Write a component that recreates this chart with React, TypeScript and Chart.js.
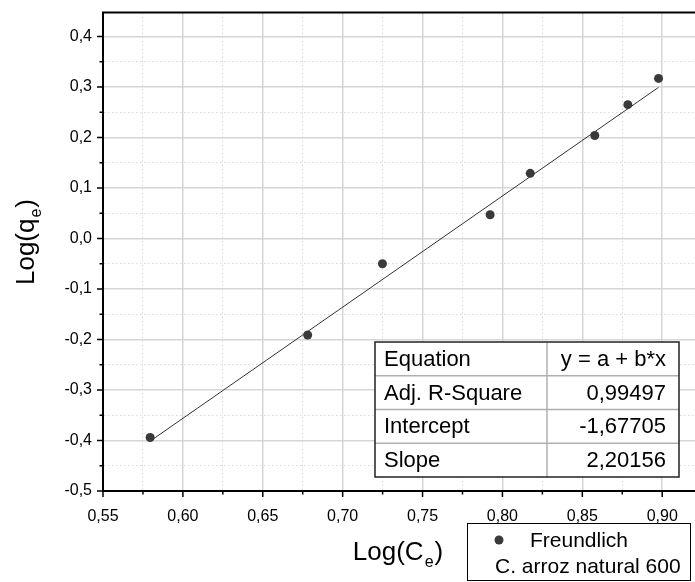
import React, { useEffect, useRef } from "react";
import { Chart, registerables } from "chart.js";

Chart.register(...registerables);

// ---- data ----
const logCe = [0.5795, 0.6781, 0.7249, 0.7923, 0.8174, 0.8578, 0.8785, 0.8977];
const logQe = [-0.394, -0.191, -0.05, 0.047, 0.129, 0.204, 0.265, 0.317];
const INTERCEPT = -1.67705;
const SLOPE = 2.20156;
const tableLabels = ["Equation", "Adj. R-Square", "Intercept", "Slope"];
const tableValues = ["y = a + b*x", "0,99497", "-1,67705", "2,20156"];
const seriesName = "Freundlich";
const sampleName = "C. arroz natural 600";
const xTitle = ["Log(C", "e", ")"];
const yTitle = ["Log(q", "e", ")"];
const X_MIN = 0.55;
const X_MAX = 0.949;
const Y_MIN = -0.5;
const Y_MAX = 0.4473;
const X_STEP = 0.025;
const Y_STEP = 0.05;

const FONT = "'Liberation Sans', Arial, sans-serif";
const CANVAS_W = 745;
const CANVAS_H = 582;

const isMajor = (v: number, major: number) => {
  const r = v / major;
  return Math.abs(r - Math.round(r)) < 1e-6;
};
const fmt = (v: number, d: number) => {
  const s = (Math.abs(v) < 1e-9 ? 0 : v).toFixed(d);
  return s.replace(".", ",");
};

function drawTitle(ctx: CanvasRenderingContext2D, parts: string[], size: number) {
  ctx.font = `${size}px ${FONT}`;
  const w0 = ctx.measureText(parts[0]).width;
  const subSize = Math.round(size * 0.62);
  ctx.font = `${subSize}px ${FONT}`;
  const w1 = ctx.measureText(parts[1]).width;
  ctx.font = `${size}px ${FONT}`;
  const w2 = ctx.measureText(parts[2]).width;
  const total = w0 + w1 + w2 + 2;
  let x = -total / 2;
  ctx.textAlign = "left";
  ctx.textBaseline = "alphabetic";
  ctx.fillStyle = "#000";
  ctx.fillText(parts[0], x, 0);
  x += w0 + 1;
  ctx.font = `${subSize}px ${FONT}`;
  ctx.fillText(parts[1], x, size * 0.28);
  x += w1 + 1;
  ctx.font = `${size}px ${FONT}`;
  ctx.fillText(parts[2], x, 0);
}

const overlayPlugin = {
  id: "overlay",
  afterDraw(chart: any) {
    const ctx: CanvasRenderingContext2D = chart.ctx;
    const area = chart.chartArea;
    const xs = chart.scales.x;
    const ys = chart.scales.y;
    ctx.save();
    // ticks
    ctx.strokeStyle = "#000";
    ctx.lineWidth = 1.5;
    xs.ticks.forEach((t: any) => {
      const px = xs.getPixelForValue(t.value);
      const len = isMajor(t.value, 0.05) ? 6 : 3.5;
      ctx.beginPath();
      ctx.moveTo(px, area.bottom);
      ctx.lineTo(px, area.bottom + len);
      ctx.stroke();
    });
    ys.ticks.forEach((t: any) => {
      const py = ys.getPixelForValue(t.value);
      const len = isMajor(t.value, 0.1) ? 6 : 3.5;
      ctx.beginPath();
      ctx.moveTo(area.left, py);
      ctx.lineTo(area.left - len, py);
      ctx.stroke();
    });
    // top border
    ctx.lineWidth = 2;
    ctx.beginPath();
    ctx.moveTo(area.left - 1, area.top);
    ctx.lineTo(area.right, area.top);
    ctx.stroke();

    // table
    const tL = 375, tR = 679, tT = 342, tB = 477, tC = 547;
    const rh = (tB - tT) / tableLabels.length;
    ctx.fillStyle = "#fff";
    ctx.fillRect(tL, tT, tR - tL, tB - tT);
    ctx.strokeStyle = "#b0b0b0";
    ctx.lineWidth = 1.5;
    for (let i = 1; i < tableLabels.length; i++) {
      ctx.beginPath();
      ctx.moveTo(tL, tT + rh * i);
      ctx.lineTo(tR, tT + rh * i);
      ctx.stroke();
    }
    ctx.beginPath();
    ctx.moveTo(tC, tT);
    ctx.lineTo(tC, tB);
    ctx.stroke();
    ctx.strokeStyle = "#222";
    ctx.lineWidth = 1.5;
    ctx.strokeRect(tL, tT, tR - tL, tB - tT);
    ctx.fillStyle = "#000";
    ctx.font = `22px ${FONT}`;
    ctx.textBaseline = "middle";
    tableLabels.forEach((lab, i) => {
      const cy = tT + rh * i + rh / 2 + 1;
      ctx.textAlign = "left";
      ctx.fillText(lab, tL + 9, cy);
      ctx.textAlign = "right";
      ctx.fillText(tableValues[i], tR - 13, cy);
    });

    // legend
    const lL = 467, lR = 690, lT = 523, lB = 580;
    ctx.fillStyle = "#fff";
    ctx.fillRect(lL, lT, lR - lL, lB - lT);
    ctx.strokeStyle = "#000";
    ctx.lineWidth = 1;
    ctx.strokeRect(lL + 0.5, lT + 0.5, lR - lL, lB - lT);
    ctx.fillStyle = "#3a3a3a";
    ctx.beginPath();
    ctx.arc(499, 540, 4.5, 0, Math.PI * 2);
    ctx.fill();
    ctx.fillStyle = "#000";
    ctx.font = `21px ${FONT}`;
    ctx.textAlign = "left";
    ctx.textBaseline = "middle";
    ctx.fillText(seriesName, 530, 541);
    ctx.fillText(sampleName, 495, 567);

    // axis titles
    ctx.save();
    ctx.translate(398, 560);
    drawTitle(ctx, xTitle, 26);
    ctx.restore();
    ctx.save();
    ctx.translate(34, 242);
    ctx.rotate(-Math.PI / 2);
    drawTitle(ctx, yTitle, 26);
    ctx.restore();

    ctx.restore();
  },
};

export default function App() {
  const ref = useRef<HTMLCanvasElement>(null);
  useEffect(() => {
    if (!ref.current) return;
    const fitX = [logCe[0], logCe[logCe.length - 1]];
    const fitData = fitX.map((x) => ({ x, y: INTERCEPT + SLOPE * x }));
    const pts = logCe.map((x, i) => ({ x, y: logQe[i] }));
    const gridColor = (major: number) => (c: any) =>
      c.tick && isMajor(c.tick.value, major) ? "#d6d6d6" : "#dadada";
    const gridDash = (major: number) => (c: any) =>
      c.tick && !isMajor(c.tick.value, major) ? [1.5, 2.5] : [];
    const gridWidth = (major: number) => (c: any) =>
      c.tick && isMajor(c.tick.value, major) ? 1.5 : 1;
    const chart = new Chart(ref.current, {
      type: "scatter",
      data: {
        datasets: [
          {
            label: "fit",
            data: fitData,
            showLine: true,
            borderColor: "#333",
            borderWidth: 1,
            pointRadius: 0,
            order: 2,
          },
          {
            label: seriesName,
            data: pts,
            backgroundColor: "#3a3a3a",
            borderWidth: 0,
            pointRadius: 4.5,
            order: 1,
          },
        ],
      },
      options: {
        responsive: false,
        animation: false,
        layout: { padding: { top: 10, right: 0, left: 0, bottom: 0 } },
        plugins: { legend: { display: false }, tooltip: { enabled: false } },
        scales: {
          x: {
            type: "linear",
            min: X_MIN,
            max: X_MAX,
            afterFit: (s: any) => {
              s.height = 91;
            },
            ticks: {
              stepSize: X_STEP,
              includeBounds: false,
              autoSkip: false,
              maxRotation: 0,
              padding: 16,
              color: "#000",
              font: { family: FONT, size: 16 },
              callback: (v: any) => (isMajor(Number(v), 0.05) ? fmt(Number(v), 2) : ""),
            },
            grid: {
              drawTicks: false,
              color: gridColor(0.05),
              lineWidth: gridWidth(0.05),
            },
            border: { display: true, color: "#000", width: 2, dash: gridDash(0.05) },
          },
          y: {
            type: "linear",
            min: Y_MIN,
            max: Y_MAX,
            afterFit: (s: any) => {
              s.width = 103;
            },
            ticks: {
              stepSize: Y_STEP,
              includeBounds: false,
              autoSkip: false,
              padding: 11,
              color: "#000",
              font: { family: FONT, size: 16, lineHeight: 0.2 },
              callback: (v: any) => (isMajor(Number(v), 0.1) ? fmt(Number(v), 1) : ""),
            },
            grid: {
              drawTicks: false,
              color: gridColor(0.1),
              lineWidth: gridWidth(0.1),
            },
            border: { display: true, color: "#000", width: 2, dash: gridDash(0.1) },
          },
        },
      },
      plugins: [overlayPlugin],
    } as any);
    return () => chart.destroy();
  }, []);
  return (
    <div
      style={{
        position: "absolute",
        left: 0,
        top: 0,
        width: 695,
        height: 582,
        overflow: "hidden",
        background: "#fff",
      }}
    >
      <canvas ref={ref} width={CANVAS_W} height={CANVAS_H} style={{ display: "block" }} />
    </div>
  );
}
